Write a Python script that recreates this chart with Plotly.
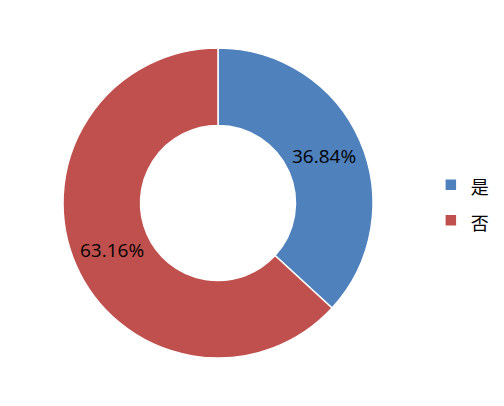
import math
import plotly.graph_objects as go

labels = ["是", "否"]
values = [7, 12]
colors = ["#4F81BD", "#C0504D"]

W, H = 504, 406
# page body has an 8px default margin, so figure coords are offset
cx, cy, R = 210, 195, 155
hole = 0.5

fig = go.Figure(go.Pie(
    labels=[f"<span style='font-size:18px'>{l}</span>" for l in labels],
    values=values,
    hole=hole,
    sort=False,
    direction="clockwise",
    rotation=0,
    marker=dict(colors=colors, line=dict(color="white", width=1.5)),
    textinfo="none",
    domain=dict(x=[(cx - R) / W, (cx + R) / W], y=[1 - (cy + R) / H, 1 - (cy - R) / H]),
    hoverinfo="label+percent",
))

# percentage labels at the middle of each ring segment, derived from the data
total = sum(values)
cum = 0
rmid = R * (1 + hole) / 2
for v in values:
    frac_mid = (cum + v / 2) / total
    ang = 2 * math.pi * frac_mid
    px = cx + rmid * math.sin(ang)
    py = cy - rmid * math.cos(ang)
    fig.add_annotation(
        x=px / W, y=1 - py / H, xref="paper", yref="paper",
        text=f"{100 * v / total:.2f}%", showarrow=False,
        font=dict(family="Open Sans", size=19, color="black"),
        xanchor="center", yanchor="middle",
    )
    cum += v

fig.update_layout(
    width=W, height=H,
    margin=dict(l=0, r=0, t=0, b=0),
    paper_bgcolor="white",
    plot_bgcolor="white",
    showlegend=True,
    legend=dict(
        x=0.839, y=0.521, xanchor="left", yanchor="middle",
        font=dict(family="Noto Sans CJK SC", size=25, color="black"),
        bgcolor="rgba(0,0,0,0)",
    ),
)

fig.write_html("out.html")
